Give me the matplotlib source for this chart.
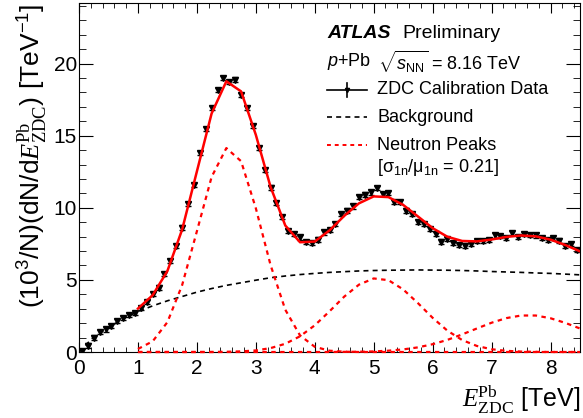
import numpy as np
import matplotlib
matplotlib.use("Agg")
import matplotlib.pyplot as plt
from matplotlib.ticker import MultipleLocator

plt.rcParams['font.family'] = ['Liberation Sans', 'DejaVu Sans']
plt.rcParams['mathtext.fontset'] = 'custom'
plt.rcParams['mathtext.rm'] = 'Liberation Serif'
plt.rcParams['mathtext.bf'] = 'Liberation Serif:italic'
plt.rcParams['mathtext.it'] = 'Liberation Sans:italic'
plt.rcParams['mathtext.sf'] = 'Liberation Sans'

# ZDC calibration data, 0.1 TeV bins from 0 to 8.5 TeV
bin_edges = np.linspace(0.0, 8.5, 86)
data_values = [
    0.05, 0.45, 1.0, 1.4, 1.57, 1.8, 2.15, 2.36, 2.55, 2.71,
    3.03, 3.45, 4.03, 4.47, 5.39, 6.3, 7.34, 8.63, 10.25, 11.58,
    13.82, 15.46, 16.9, 18.19, 18.98, 18.73, 18.89, 17.8, 16.92, 15.65,
    14.14, 12.64, 11.4, 10.33, 9.35, 8.4, 8.2, 7.95, 7.65, 7.55,
    7.8, 8.29, 8.45, 8.89, 9.56, 9.81, 10.09, 10.74, 10.92, 11.06,
    11.39, 10.97, 11.02, 10.42, 10.4, 9.81, 9.58, 9.0, 8.87, 8.52,
    8.17, 7.66, 7.83, 7.55, 7.43, 7.38, 7.5, 7.69, 7.71, 7.78,
    8.08, 8.06, 7.9, 8.24, 7.96, 8.17, 8.13, 8.08, 7.9, 7.78,
    7.9, 7.73, 7.36, 7.5, 7.08,
]
data_error = 0.15

# background curve, read every 0.25 TeV from 0 to 8.5
bg_x = np.linspace(0.0, 8.5, 35)
bg_values = [
    0.0, 1.05, 1.7, 2.3, 2.8, 3.2, 3.55, 3.85, 4.15, 4.4,
    4.62, 4.8, 4.98, 5.15, 5.27, 5.37, 5.45, 5.52, 5.57, 5.62,
    5.65, 5.67, 5.68, 5.69, 5.68, 5.67, 5.65, 5.62, 5.58, 5.55,
    5.52, 5.48, 5.45, 5.4, 5.35,
]

# neutron peaks, read every 0.25 TeV over the fit range 1 to 8.5
fit_x = np.linspace(1.0, 8.5, 31)
peak_1n = [
    0.21, 0.74, 2.07, 4.64, 8.37, 12.14, 14.14, 13.23, 9.97, 6.03,
    2.93, 1.15, 0.36, 0.09, 0.02, 0, 0, 0, 0, 0,
    0, 0, 0, 0, 0, 0, 0, 0, 0, 0, 0,
]
peak_2n = [
    0, 0, 0, 0, 0, 0, 0.01, 0.04, 0.11, 0.27,
    0.57, 1.09, 1.85, 2.82, 3.84, 4.67, 5.1, 4.98, 4.34, 3.39,
    2.37, 1.48, 0.83, 0.42, 0.19, 0.08, 0.03, 0.01, 0, 0, 0,
]
peak_3n = [
    0, 0, 0, 0, 0, 0, 0, 0, 0, 0,
    0, 0, 0, 0, 0.01, 0.02, 0.04, 0.09, 0.18, 0.32,
    0.54, 0.84, 1.22, 1.63, 2.03, 2.35, 2.53, 2.53, 2.34, 2.02, 1.63,
]

centers = 0.5 * (bin_edges[:-1] + bin_edges[1:])
bg_fit = np.array(bg_values)[4:]
total = bg_fit + np.array(peak_1n) + np.array(peak_2n) + np.array(peak_3n)

fig = plt.figure(figsize=(5.83, 4.18), dpi=100)
ax = fig.add_axes([79 / 583, 66 / 418, 501 / 583, 349 / 418])

red = '#ff0000'
for peak in (peak_1n, peak_2n, peak_3n):
    ax.plot(fit_x, peak, color=red, lw=1.6, dashes=(2, 2), clip_on=False, zorder=2.6)
ax.plot(bg_x, bg_values, color='black', lw=1.2, dashes=(3, 2.5), zorder=2)
ax.errorbar(centers, data_values, yerr=data_error, fmt='v', color='black',
            ms=4.5, elinewidth=1, capsize=2, zorder=3)
ax.plot(fit_x, total, color=red, lw=1.8, zorder=4)

ax.set_xlim(0, 8.5)
ax.set_ylim(0, 24.2)
ax.xaxis.set_major_locator(MultipleLocator(1))
ax.xaxis.set_minor_locator(MultipleLocator(0.2))
ax.yaxis.set_major_locator(MultipleLocator(5))
ax.yaxis.set_minor_locator(MultipleLocator(1))
ax.tick_params(which='both', direction='in', top=True, right=True, labelsize=15)
ax.tick_params(axis='x', which='major', length=7, pad=5)
ax.tick_params(axis='x', which='minor', length=3.5)
ax.tick_params(axis='y', which='major', length=10, pad=1.5)
ax.tick_params(axis='y', which='minor', length=5)

ax.text(-0.092, 0.998, r'(10$^{\mathsf{3}}$/N)(dN/d$\mathbf{E}_{\mathrm{ZDC}}^{\mathrm{Pb}}$) [TeV$^{\mathsf{-1}}$]',
        transform=ax.transAxes, rotation=90, ha='center', va='top', fontsize=19)
ax.text(1.0, -0.157, r'$\mathbf{E}_{\mathrm{ZDC}}^{\mathrm{Pb}}$ [TeV]',
        transform=ax.transAxes, ha='right', va='baseline', fontsize=18)

# legend block
tx = 0.495
ax.text(tx, 0.914, 'ATLAS', transform=ax.transAxes, fontsize=14,
        fontweight='bold', fontstyle='italic', va='center')
ax.text(0.645, 0.914, 'Preliminary', transform=ax.transAxes, fontsize=14, va='center')
ax.text(tx, 0.831, r'$p$+Pb', transform=ax.transAxes, fontsize=13, va='center')
ax.text(0.597, 0.831, r'$\sqrt{s_{\mathsf{NN}}}$ = 8.16 TeV', transform=ax.transAxes,
        fontsize=13, va='center')

h0, h1 = 0.495, 0.575
ax.plot([h0, h1], [0.751, 0.751], color='black', lw=1.2, transform=ax.transAxes, clip_on=False)
ax.plot([0.535, 0.535], [0.73, 0.772], color='black', lw=1.2, transform=ax.transAxes, clip_on=False)
ax.plot([0.535], [0.751], marker='v', ms=3, color='black', transform=ax.transAxes, clip_on=False)
ax.text(0.595, 0.751, 'ZDC Calibration Data', transform=ax.transAxes, fontsize=13, va='center')

ax.plot([h0, h1], [0.673, 0.673], color='black', lw=1.2, dashes=(3, 2.5),
        transform=ax.transAxes, clip_on=False)
ax.text(0.595, 0.673, 'Background', transform=ax.transAxes, fontsize=13, va='center')

ax.plot([h0, h1], [0.593, 0.593], color=red, lw=1.4, dashes=(2, 2),
        transform=ax.transAxes, clip_on=False)
ax.text(0.595, 0.593, 'Neutron Peaks', transform=ax.transAxes, fontsize=13, va='center')
ax.text(0.595, 0.530, r'[σ$_{\mathsf{1n}}$/μ$_{\mathsf{1n}}$ = 0.21]', transform=ax.transAxes,
        fontsize=13, va='center')

fig.savefig('out.png', dpi=100)
